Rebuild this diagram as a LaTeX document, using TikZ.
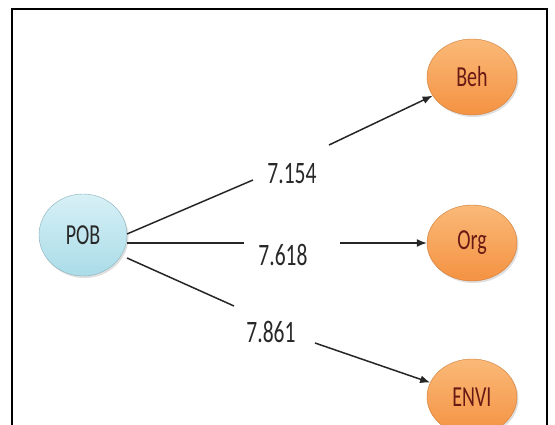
\documentclass[tikz,border=0pt]{standalone}
\usepackage{fontspec}
\setmainfont{Carlito}
\usetikzlibrary{arrows.meta,shadows,shapes.geometric}
\definecolor{orfill}{RGB}{244,146,66}
\definecolor{orlight}{RGB}{250,185,120}
\definecolor{bluefill}{RGB}{170,220,232}
\definecolor{bluelight}{RGB}{215,240,246}
\definecolor{redtext}{RGB}{105,25,20}
\definecolor{graytext}{RGB}{40,40,40}
\tikzset{
  orangenode/.style={ellipse, minimum width=90pt, minimum height=76pt, inner sep=0pt,
     top color=orlight, bottom color=orfill, draw=orfill!85!black, line width=0.4pt,
     drop shadow={shadow xshift=1.5pt, shadow yshift=-2pt, opacity=0.25},
     text=redtext, font=\fontsize{20}{23}\selectfont},
  bluenode/.style={ellipse, minimum width=88pt, minimum height=82pt, inner sep=0pt,
     top color=bluelight, bottom color=bluefill, draw=bluefill!80!black, line width=0.4pt,
     drop shadow={shadow xshift=1.5pt, shadow yshift=-2pt, opacity=0.25},
     text=graytext, font=\fontsize{20}{23}\selectfont},
  weight/.style={text=graytext, font=\fontsize{21.5}{25}\selectfont, inner sep=1pt},
  link/.style={line width=1.5pt, black!85},
  arrowlink/.style={link, -{Latex[length=10pt,width=8pt]}}
}
\newcommand{\tallt}[1]{\scalebox{1}[1.45]{#1}}
\begin{document}
\begin{tikzpicture}[x=1pt,y=-1pt]
\useasboundingbox (0,0) rectangle (555,425);
\fill[white] (0,0) rectangle (555,425);
\draw[line width=1.2pt, black] (12,425) -- (12,9) -- (547,9) -- (547,425);

\node[bluenode] (pob) at (83,235) {\tallt{POB}};
\node[orangenode] (beh) at (472,77) {\tallt{Beh}};
\node[orangenode] (org) at (472,243) {\tallt{Org}};
\node[orangenode] (envi) at (472,397) {\tallt{ENVI}};

\node[weight] (w1) at (292,174) {\tallt{7.154}};
\node[weight] (w2) at (283,255) {\tallt{7.618}};
\node[weight] (w3) at (271,332) {\tallt{7.861}};

\coordinate (a1) at (253,180);
\coordinate (b1) at (329,145);
\coordinate (a2) at (244,243);
\coordinate (b2) at (340,243);
\coordinate (a3) at (234,306);
\coordinate (b3) at (315,343);

\draw[link] (127,234) -- (a1);
\draw[arrowlink] (b1) -- (beh);
\draw[link] (pob.east |- a2) -- (a2);
\draw[arrowlink] (b2) -- (org);
\draw[link] (127,258) -- (a3);
\draw[arrowlink] (b3) -- (envi);
\end{tikzpicture}
\end{document}
